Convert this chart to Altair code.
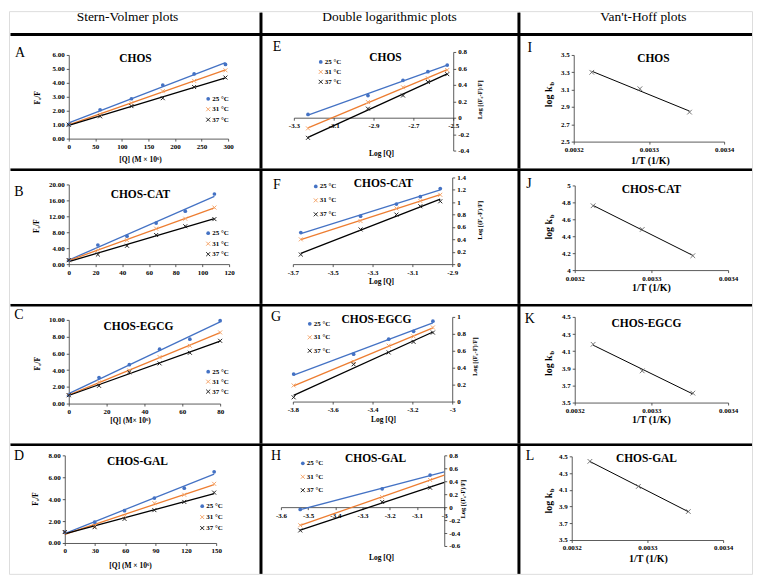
import altair as alt
import pandas as pd

FONT = "Liberation Serif"
SERIES = ["25 °C", "31 °C", "37 °C"]
LINE_COLORS = ["#4472C4", "#ED7D31", "#000000"]
MARK_COLORS = ["#4472C4", "#F4A46A", "#222222"]
AXC = "#333333"
XPATH = "M-1,-1L1,1M-1,1L1,-1"

HEADERS = ["Stern-Volmer plots", "Double logarithmic plots", "Van't-Hoff plots"]

# ---------------- Stern-Volmer data (F0/F vs [Q]) ----------------
A_x = [0, 59, 118, 177, 236, 295]
A_25 = [1.00, 2.07, 2.86, 3.84, 4.64, 5.32]
A_31 = [1.00, 1.74, 2.55, 3.40, 4.14, 4.90]
A_37 = [1.00, 1.60, 2.33, 2.90, 3.70, 4.38]
A_xticks = [0, 50, 100, 150, 200, 250, 300]
A_yticks = [0, 1, 2, 3, 4, 5, 6]

B_x = [0, 21.8, 43.6, 65.4, 87.2, 109.0]
B_25 = [1.0, 4.8, 7.0, 10.3, 13.3, 17.6]
B_31 = [1.0, 3.5, 6.0, 8.9, 11.4, 14.2]
B_37 = [1.0, 2.4, 4.6, 7.3, 9.5, 11.3]
B_xticks = [0, 20, 40, 60, 80, 100, 120]
B_yticks = [0, 4, 8, 12, 16, 20]

C_x = [0, 16, 32, 48, 64, 80]
C_25 = [1.0, 3.1, 4.65, 6.5, 7.7, 9.9]
C_31 = [1.0, 2.55, 3.95, 5.55, 6.9, 8.5]
C_37 = [1.0, 2.12, 3.75, 4.8, 6.07, 7.5]
C_xticks = [0, 20, 40, 60, 80]
C_yticks = [0, 2, 4, 6, 8, 10]

D_x = [0, 29.6, 59.2, 88.8, 118.4, 148.0]
D_25 = [1.0, 1.9, 2.95, 4.1, 5.0, 6.5]
D_31 = [1.0, 1.52, 2.43, 3.63, 4.4, 5.4]
D_37 = [1.0, 1.44, 2.2, 3.0, 3.75, 4.6]
D_xticks = [0, 30, 60, 90, 120, 150]
D_yticks = [0, 2, 4, 6, 8]

# ---------------- Double logarithmic data ----------------
E_x = [-3.229, -2.928, -2.752, -2.627, -2.530]
E_25 = [0.04, 0.27, 0.455, 0.56, 0.64]
E_31 = [-0.13, 0.19, 0.37, 0.48, 0.58]
E_37 = [-0.245, 0.11, 0.27, 0.435, 0.53]
E_xticks = [-3.3, -3.1, -2.9, -2.7, -2.5]
E_yticks = [-0.4, -0.2, 0, 0.2, 0.4, 0.6, 0.8]

F_x = [-3.66, -3.36, -3.18, -3.06, -2.96]
F_25 = [0.51, 0.775, 0.97, 1.09, 1.22]
F_31 = [0.40, 0.695, 0.90, 1.02, 1.12]
F_37 = [0.155, 0.56, 0.80, 0.935, 1.015]
F_xticks = [-3.7, -3.5, -3.3, -3.1, -2.9]
F_yticks = [0, 0.2, 0.4, 0.6, 0.8, 1, 1.2, 1.4]

G_x = [-3.796, -3.495, -3.319, -3.194, -3.097]
G_25 = [0.325, 0.56, 0.737, 0.83, 0.95]
G_31 = [0.19, 0.47, 0.66, 0.77, 0.875]
G_37 = [0.05, 0.44, 0.58, 0.705, 0.815]
G_xticks = [-3.8, -3.6, -3.4, -3.2, -3.0]
G_yticks = [0, 0.2, 0.4, 0.6, 0.8, 1]

H_x = [-3.529, -3.228, -3.052]
H_25 = [-0.036, 0.283, 0.495]
H_31 = [-0.28, 0.155, 0.42]
H_37 = [-0.36, 0.08, 0.30]
H_line_end = -3.0
H_xticks = [-3.6, -3.5, -3.4, -3.3, -3.2, -3.1, -3.0]
H_yticks = [-0.6, -0.4, -0.2, 0, 0.2, 0.4, 0.6, 0.8]

# ---------------- Van't-Hoff data ----------------
VH_x = [0.003354, 0.003288, 0.003224]
I_y = [2.84, 3.11, 3.30]
J_y = [4.17, 4.48, 4.76]
K_y = [3.61, 3.87, 4.18]
L_y = [3.84, 4.14, 4.44]
VH_xticks = [0.0032, 0.0033, 0.0034]
I_yticks = [2.5, 2.7, 2.9, 3.1, 3.3, 3.5]
J_yticks = [4, 4.2, 4.4, 4.6, 4.8, 5]
K_yticks = [3.5, 3.7, 3.9, 4.1, 4.3, 4.5]
L_yticks = [3.5, 3.7, 3.9, 4.1, 4.3, 4.5]

# ---------------- layout (reference pixel coords) ----------------
COL_X = [0, 253, 512]
COL_W = [253, 259, 234]
ROW_Y = [0, 158, 294, 434]
ROW_H = [158, 136, 140, 131]
M = 8

SVX = "[Q] (M × 10⁶)"
PANELS = [
    dict(letter="A", kind="sv", row=0, col=0, box=(68, 52, 228, 136), xdom=(0, 300), ydom=(0, 6),
         x=A_x, ys=[A_25, A_31, A_37], xticks=A_xticks, yticks=A_yticks, xfmt="~g", yfmt=".2f",
         title="CHOS", tpos=(135, 56), lpos=(19, 50), ytpos=(37, 95), xtitle=SVX, xtpos=(140, 157),
         leg=(208, 96, 10.5)),
    dict(letter="B", kind="sv", row=1, col=0, box=(68, 182, 229, 262), xdom=(0, 120), ydom=(0, 20),
         x=B_x, ys=[B_25, B_31, B_37], xticks=B_xticks, yticks=B_yticks, xfmt="~g", yfmt=".2f",
         title="CHOS-CAT", tpos=(140, 193), lpos=(18, 190), ytpos=(36, 224), xtitle=None, xtpos=None,
         leg=(208, 231, 10.5)),
    dict(letter="C", kind="sv", row=2, col=0, box=(68, 318, 220, 402), xdom=(0, 80), ydom=(0, 10),
         x=C_x, ys=[C_25, C_31, C_37], xticks=C_xticks, yticks=C_yticks, xfmt="~g", yfmt=".2f",
         title="CHOS-EGCG", tpos=(138, 325), lpos=(18, 313), ytpos=(37, 362), xtitle="[Q] (M× 10⁶)",
         xtpos=(130, 420), leg=(208, 370, 10)),
    dict(letter="D", kind="sv", row=3, col=0, box=(64, 454, 216, 542), xdom=(0, 150), ydom=(0, 8),
         x=D_x, ys=[D_25, D_31, D_37], xticks=D_xticks, yticks=D_yticks, xfmt="~g", yfmt=".2f",
         title="CHOS-GAL", tpos=(137, 461), lpos=(18, 455), ytpos=(35, 498), xtitle=SVX, xtpos=(130, 565),
         leg=(202, 505, 11)),
    dict(letter="E", kind="dl", row=0, col=1, box=(294, 49, 454, 148), xdom=(-3.3, -2.5), ydom=(-0.4, 0.8),
         x=E_x, ys=[E_25, E_31, E_37], xticks=E_xticks, yticks=E_yticks, xfmt="~g", yfmt="~g",
         title="CHOS", tpos=(386, 55), lpos=(277, 44), ytpos=(481, 97), xtitle="Log [Q]", xtpos=(382, 151),
         leg=(321, 59, 10)),
    dict(letter="F", kind="dl", row=1, col=1, box=(293, 175, 453, 262), xdom=(-3.7, -2.9), ydom=(0, 1.4),
         x=F_x, ys=[F_25, F_31, F_37], xticks=F_xticks, yticks=F_yticks, xfmt="~g", yfmt="~g",
         title="CHOS-CAT", tpos=(384, 182), lpos=(277, 183), ytpos=(481, 218), xtitle="Log [Q]",
         xtpos=(382, 280), leg=(316, 184, 14)),
    dict(letter="G", kind="dl", row=2, col=1, box=(293, 315, 453, 400), xdom=(-3.8, -3.0), ydom=(0, 1),
         x=G_x, ys=[G_25, G_31, G_37], xticks=G_xticks, yticks=G_yticks, xfmt="~g", yfmt="~g",
         title="CHOS-EGCG", tpos=(377, 318), lpos=(276, 315), ytpos=(476, 355), xtitle="Log [Q]",
         xtpos=(384, 419), leg=(310, 322, 13.5)),
    dict(letter="H", kind="dl", row=3, col=1, box=(281, 454, 445, 545), xdom=(-3.6, -3.0), ydom=(-0.6, 0.8),
         x=H_x, ys=[H_25, H_31, H_37], xticks=H_xticks, yticks=H_yticks, xfmt="~g", yfmt="~g",
         title="CHOS-GAL", tpos=(376, 458), lpos=(276, 455), ytpos=(464, 498), xtitle="Log [Q]",
         xtpos=(382, 557), leg=(303, 462, 13.5), extent=[H_x[0], H_line_end]),
    dict(letter="I", kind="vh", row=0, col=2, box=(575, 52, 726, 139), xdom=(0.0032, 0.0034), ydom=(2.5, 3.5),
         x=VH_x, ys=[I_y], xticks=VH_xticks, yticks=I_yticks, xfmt=".4f", yfmt=".1f",
         title="CHOS", tpos=(655, 56), lpos=(531, 45), ytpos=(550, 92), xtitle="1/T (1/K)", xtpos=(652, 158)),
    dict(letter="J", kind="vh", row=1, col=2, box=(576, 183, 730, 268), xdom=(0.0032, 0.0034), ydom=(4, 5),
         x=VH_x, ys=[J_y], xticks=VH_xticks, yticks=J_yticks, xfmt=".4f", yfmt="~g",
         title="CHOS-CAT", tpos=(653, 188), lpos=(530, 182), ytpos=(550, 225), xtitle="1/T (1/K)",
         xtpos=(653, 286)),
    dict(letter="K", kind="vh", row=2, col=2, box=(576, 315, 730, 401), xdom=(0.0032, 0.0034), ydom=(3.5, 4.5),
         x=VH_x, ys=[K_y], xticks=VH_xticks, yticks=K_yticks, xfmt=".4f", yfmt=".1f",
         title="CHOS-EGCG", tpos=(648, 322), lpos=(531, 317), ytpos=(550, 362), xtitle="1/T (1/K)",
         xtpos=(653, 419)),
    dict(letter="L", kind="vh", row=3, col=2, box=(573, 455, 725, 539), xdom=(0.0032, 0.0034), ydom=(3.5, 4.5),
         x=VH_x, ys=[L_y], xticks=VH_xticks, yticks=L_yticks, xfmt=".4f", yfmt=".1f",
         title="CHOS-GAL", tpos=(648, 458), lpos=(531, 455), ytpos=(550, 500), xtitle="1/T (1/K)",
         xtpos=(650, 558)),
]
HEADER_POS = [(127, 14), (390, 14), (645, 14)]


def one():
    return pd.DataFrame({"k": [0]})


def txt(text, x, y, size, weight="normal", align="center", angle=0, baseline="middle"):
    return alt.Chart(pd.DataFrame({"t": [text]})).mark_text(
        font=FONT, fontSize=size, fontWeight=weight, align=align, baseline=baseline,
        angle=angle, color="black"
    ).encode(x=alt.value(x), y=alt.value(y), text="t:N")


def rule(x1, y1, x2, y2, w):
    return alt.Chart(one()).mark_rule(color="black", strokeWidth=w, strokeCap="butt").encode(
        x=alt.value(x1), x2=alt.value(x2), y=alt.value(y1), y2=alt.value(y2))


def label_expr(fmt):
    return (f"datum.value < 0 ? '-' + format(-datum.value, '{fmt}') "
            f": format(datum.value, '{fmt}')")


def marker(i, x, y):
    if i == 0:
        return alt.Chart(one()).mark_point(shape="circle", filled=True, size=14, opacity=1,
                                           color=MARK_COLORS[0]).encode(x=alt.value(x), y=alt.value(y))
    return alt.Chart(one()).mark_point(shape=XPATH, filled=False, size=16, strokeWidth=1, opacity=1,
                                       color=MARK_COLORS[i]).encode(x=alt.value(x), y=alt.value(y))


def build_cell(p):
    r, c = p["row"], p["col"]
    W, H = COL_W[c], ROW_H[r]
    ox, oy = M + COL_X[c], M + ROW_Y[r]
    lx = lambda v: v - ox
    ly = lambda v: v - oy
    left, top, right, bottom = p["box"]
    xr = [lx(left), lx(right)]
    yr = [ly(bottom), ly(top)]
    xdom, ydom = p["xdom"], p["ydom"]
    kind = p["kind"]
    if kind == "dl":
        frac = (0 - ydom[0]) / (ydom[1] - ydom[0])
        xaxis_y = yr[0] - frac * (yr[0] - yr[1])
        yorient, yoff = "right", -(W - xr[1])
    else:
        xaxis_y = yr[0]
        yorient, yoff = "left", -xr[0]
    xoff = -(H - xaxis_y)
    common = dict(labelFont=FONT, labelFontSize=7, labelFontWeight="bold", labelColor="black",
                  domainColor=AXC, tickColor=AXC, tickSize=2.5, domainWidth=0.8, tickWidth=0.8,
                  grid=False, title=None, labelFlush=False, labelOverlap=False)
    xaxis = alt.Axis(orient="bottom", offset=xoff, values=p["xticks"], labelExpr=label_expr(p["xfmt"]),
                     labelPadding=1.5, **common)
    yaxis = alt.Axis(orient=yorient, offset=yoff, values=p["yticks"], labelExpr=label_expr(p["yfmt"]),
                     labelPadding=2, **common)
    X = alt.X("x:Q", scale=alt.Scale(domain=list(xdom), range=xr, nice=False, zero=False), axis=xaxis)
    Y = alt.Y("y:Q", scale=alt.Scale(domain=list(ydom), range=yr, nice=False, zero=False), axis=yaxis)

    layers = []
    if kind in ("sv", "dl"):
        recs = [{"x": xv, "y": yv, "s": s} for s, ys in zip(SERIES, p["ys"]) for xv, yv in zip(p["x"], ys)]
        df = pd.DataFrame(recs)
        base = alt.Chart(df)
        reg_kw = {"extent": p["extent"]} if p.get("extent") else {}
        layers.append(
            base.transform_regression("x", "y", groupby=["s"], **reg_kw).mark_line(strokeWidth=1.3).encode(
                x=X, y=Y, color=alt.Color("s:N", scale=alt.Scale(domain=SERIES, range=LINE_COLORS), legend=None)))
        layers.append(base.transform_filter(alt.datum.s == SERIES[0]).mark_point(
            shape="circle", filled=True, size=14, opacity=1, color=MARK_COLORS[0]).encode(x=X, y=Y))
        for i in (1, 2):
            layers.append(base.transform_filter(alt.datum.s == SERIES[i]).mark_point(
                shape=XPATH, filled=False, size=16, strokeWidth=1, opacity=1, color=MARK_COLORS[i]).encode(x=X, y=Y))
        mx, my, dy = p["leg"]
        for i, s in enumerate(SERIES):
            layers.append(marker(i, lx(mx), ly(my + i * dy)))
            layers.append(txt(s, lx(mx + 4), ly(my + i * dy), 7, "bold", align="left"))
    else:
        df = pd.DataFrame({"x": p["x"], "y": p["ys"][0]})
        base = alt.Chart(df)
        layers.append(base.transform_regression("x", "y").mark_line(strokeWidth=1, color="black").encode(x=X, y=Y))
        layers.append(base.mark_point(shape=XPATH, filled=False, size=22, strokeWidth=0.9, opacity=1,
                                      color="#666666").encode(x=X, y=Y))

    # titles and labels
    layers.append(txt(p["title"], lx(p["tpos"][0]), ly(p["tpos"][1]), 11.5, "bold"))
    layers.append(txt(p["letter"], lx(p["lpos"][0]), ly(p["lpos"][1]), 14))
    yx, yy = p["ytpos"]
    if kind == "sv":
        layers.append(txt("F₀/F", lx(yx), ly(yy), 7.5, "bold", angle=270))
    elif kind == "dl":
        layers.append(txt("Log [(F₀-F)/F]", lx(yx), ly(yy), 6.5, "bold", angle=270))
    else:
        layers.append(txt("log k", lx(yx), ly(yy + 2), 10, "bold", angle=270))
        layers.append(txt("b", lx(yx + 3), ly(yy - 11), 7, "bold", angle=270))
    if p["xtitle"]:
        size = 10 if kind == "vh" else 7.5
        layers.append(txt(p["xtitle"], lx(p["xtpos"][0]), ly(p["xtpos"][1]), size, "bold"))

    # table lines (kept fully inside the chart so nothing pads the origin)
    x_start = 1.5 if c == 0 else 0
    if r == 0:
        layers.append(txt(HEADERS[c], lx(HEADER_POS[c][0]), ly(HEADER_POS[c][1]), 13.5))
        layers.append(rule(x_start, ly(31.5), W, ly(31.5), 3))
    else:
        layers.append(rule(x_start, 1.25, W, 1.25, 2.5))
    if c > 0:
        layers.append(rule(0, 1.5 if r == 0 else 0, 0, H, 3))

    return alt.layer(*layers).properties(width=W, height=H)


cells = {(p["row"], p["col"]): build_cell(p) for p in PANELS}
ordered = [cells[(r, c)] for r in range(4) for c in range(3)]
chart = alt.concat(*ordered, columns=3, spacing=0, bounds="flush", align="each").properties(
    padding=0).configure_view(stroke=None).configure(background="white")

chart.save("out.html", embed_options={"renderer": "svg", "actions": False})
